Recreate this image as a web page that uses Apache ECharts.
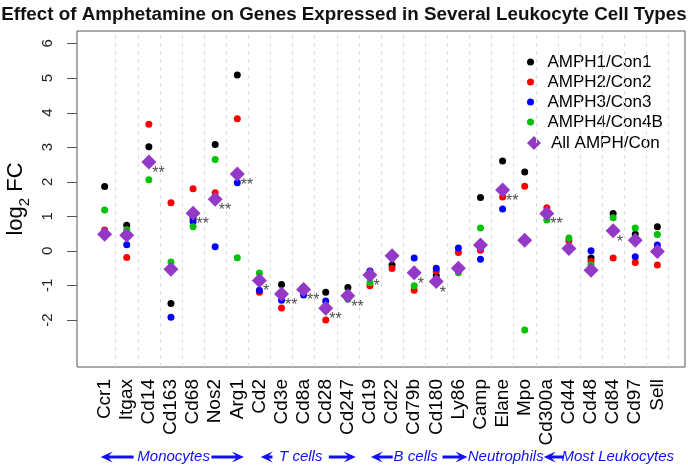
<!DOCTYPE html>
<html><head><meta charset="utf-8">
<script src="https://cdn.jsdelivr.net/npm/echarts@6/dist/echarts.min.js"></script>
<style>html,body{margin:0;padding:0;background:#fff}#c{width:688px;height:466px}</style>
</head><body><div id="c"></div>
<script>
const genes = ['Ccr1','Itgax','Cd14','Cd163','Cd68','Nos2','Arg1','Cd2','Cd3e','Cd8a','Cd28','Cd247','Cd19','Cd22','Cd79b','Cd180','Ly86','Camp','Elane','Mpo','Cd300a','Cd44','Cd48','Cd84','Cd97','Sell'];
const amph1 = [1.86,0.74,3.01,-1.52,0.95,3.08,5.09,-0.90,-0.97,-1.05,-1.20,-1.06,-0.75,-0.41,-0.60,-0.72,-0.50,1.54,2.60,2.28,1.05,0.10,-0.21,1.08,0.48,0.70];
const amph2 = [0.60,-0.19,3.66,1.39,1.80,1.68,3.82,-1.20,-1.65,-1.15,-2.00,-1.35,-1.01,-0.51,-1.14,-0.58,-0.05,0.02,1.56,1.87,1.25,0.29,-0.30,-0.21,-0.34,-0.41];
const amph3 = [0.50,0.18,2.55,-1.92,0.85,0.12,1.97,-1.14,-1.43,-1.28,-1.45,-1.30,-0.58,-0.20,-0.21,-0.50,0.08,-0.24,1.21,0.30,1.05,0.10,0.00,0.60,-0.17,0.17];
const amph4 = [1.18,0.61,2.06,-0.32,0.70,2.64,-0.20,-0.64,-1.25,-1.10,-1.70,-1.40,-0.92,-0.18,-1.01,-0.85,-0.63,0.66,1.80,-2.29,0.89,0.37,-0.40,0.96,0.66,0.47];
const allAmph = [0.48,0.45,2.57,-0.53,1.09,1.49,2.22,-0.86,-1.25,-1.12,-1.66,-1.30,-0.70,-0.14,-0.63,-0.89,-0.50,0.17,1.76,0.31,1.08,0.07,-0.56,0.58,0.31,-0.02];
const stars = ['','','**','','**','**','**','*','**','**','**','**','*','','*','*','','','**','','**','','','*','',''];
const yTicks = [-2,-1,0,1,2,3,4,5,6];
const seriesNames = ['AMPH1/Con1','AMPH2/Con2','AMPH3/Con3','AMPH4/Con4B','All AMPH/Con'];
const groupLabels = ['Monocytes','T cells','B cells','Neutrophils','Most Leukocytes'];
const groupCenters = [3.12, 8.87, 14.07, 18.14, 23.21];
// arrows: [tail, head] in category units
const groupArrows = [[[1.31,-0.18],[4.83,6.30]], [[7.59,7.06],[10.14,11.36]], [[13.03,12.04],[15.28,16.41]], [], [[20.77,19.86]]];

const FONT = "'Liberation Sans', Arial, Helvetica, sans-serif";
const colors = ['#000000','#ff0000','#0000ff','#00c400','#9438c8'];
const diamondPath = 'path://M0,-1L1,0L0,1L-1,0Z';
const X_MIN = -1.25, X_MAX = 26.25;

const chart = echarts.init(document.getElementById('c'), null, {renderer:'canvas'});
const pts = arr => arr.map((v,i)=>[i,v]);
const dotSeries = [amph1, amph2, amph3, amph4].map((arr,k)=>({
  name: seriesNames[k], type:'scatter', data: pts(arr), symbol:'circle', symbolSize:7,
  itemStyle:{color:colors[k], opacity:1}, z:3+k, silent:true
}));
const starData = stars.map((s,i)=>[i, allAmph[i]]).filter(d=>stars[d[0]] !== '');

const option = {
  animation:false,
  backgroundColor:'#fff',
  title:{text:'Effect of Amphetamine on Genes Expressed in Several Leukocyte Cell Types', left:'center', top:0,
    textStyle:{fontFamily:FONT, fontSize:18.8, fontWeight:'bold', color:'#111'}},
  grid:{left:77, right:3, top:31, bottom:99, show:true, borderColor:'#555', borderWidth:1, backgroundColor:'transparent',
    containLabel:false, outerBoundsMode:'none'},
  legend:[
    {data:seriesNames.slice(0,4), orient:'vertical', left:527, top:52, padding:0, itemGap:0, icon:'circle', itemWidth:24, itemHeight:7,
     textStyle:{fontFamily:FONT, fontSize:17, color:'#000', lineHeight:20}, selectedMode:false},
    {data:[seriesNames[4]], orient:'vertical', left:527, top:133, padding:0, itemGap:0, icon:diamondPath, itemWidth:24, itemHeight:14,
     textStyle:{fontFamily:FONT, fontSize:17, color:'#000', lineHeight:20}, selectedMode:false}
  ],
  xAxis:{type:'value', position:'bottom', min:X_MIN, max:X_MAX, splitLine:{show:false}, axisLine:{show:false, onZero:false}, axisTick:{show:false},
    axisLabel:{customValues: genes.map((g,i)=>i), formatter: v => genes[Math.round(v)] || '', rotate:90, margin:12,
      fontFamily:FONT, fontSize:19, color:'#000'}},
  yAxis:{type:'value', position:'left', min:-3.36, max:6.36, splitLine:{show:false},
    axisLine:{show:false, onZero:false},
    axisTick:{show:false},
    axisLabel:{customValues:yTicks, rotate:90, margin:22, fontFamily:FONT, fontSize:15, color:'#222'},
    name:'{a|log}{b|2}{a| FC}', nameLocation:'middle', nameRotate:90, nameGap:40,
    nameTextStyle:{fontFamily:FONT, color:'#000', rich:{
      a:{fontFamily:FONT, fontSize:22, color:'#000', verticalAlign:'bottom', padding:[0,0,5,0]},
      b:{fontFamily:FONT, fontSize:15, color:'#000', verticalAlign:'bottom'}}}},
  series:[
    {name:'grid', type:'scatter', data:[], z:1, silent:true,
     markLine:{silent:true, symbol:['none','none'], label:{show:false}, animation:false,
       lineStyle:{type:[4,4], color:'#dcdcdc', width:1},
       data: genes.map((g,i)=>({xAxis:i+0.5}))}},
    ...dotSeries,
    {name:seriesNames[4], type:'scatter', data:pts(allAmph), symbol:diamondPath, symbolSize:15,
     itemStyle:{color:colors[4], opacity:1}, z:8, silent:true},
    {name:'stars', type:'scatter', data:starData, symbolSize:1, itemStyle:{color:'transparent'}, z:9, silent:true,
     label:{show:true, position:[4,12], align:'left', verticalAlign:'middle', formatter: p => stars[p.value[0]],
       fontFamily:FONT, fontSize:16, color:'#222'}}
  ]
};
chart.setOption(option);

const px = v => chart.convertToPixel({xAxisIndex:0}, v);
const py = v => chart.convertToPixel({yAxisIndex:0}, v);
const graphics = [];
// y-axis tick marks (outside the box)
const axisX = px(X_MIN);
yTicks.forEach(t=>{
  const y = Math.round(py(t)) + 0.5;
  graphics.push({type:'line', silent:true, shape:{x1:axisX-10, y1:y, x2:axisX, y2:y}, style:{stroke:'#555', lineWidth:1}});
});
// group annotations below the axis labels
const gy = 457;
const blue = '#1010f0';
groupLabels.forEach((name, g)=>{
  graphics.push({type:'text', silent:true, style:{text:name, x:px(groupCenters[g]), y:gy, align:'center', verticalAlign:'middle',
    textAlign:'center', textVerticalAlign:'middle', fontFamily:FONT, fontSize:15, fontStyle:'italic', fill:blue}});
  groupArrows[g].forEach(([tail, head])=>{
    const x0 = px(tail), x1 = px(head);
    const dir = x1 > x0 ? 1 : -1;
    const hl = 12, hw = 5.5;
    graphics.push({type:'line', silent:true, shape:{x1:x0, y1:gy, x2:x1 - dir*7, y2:gy}, style:{stroke:blue, lineWidth:3}});
    graphics.push({type:'polygon', silent:true, shape:{points:[[x1,gy],[x1-dir*hl,gy-hw],[x1-dir*7,gy],[x1-dir*hl,gy+hw]]}, style:{fill:blue}});
  });
});
chart.setOption({graphic:graphics});
</script>
</body></html>
